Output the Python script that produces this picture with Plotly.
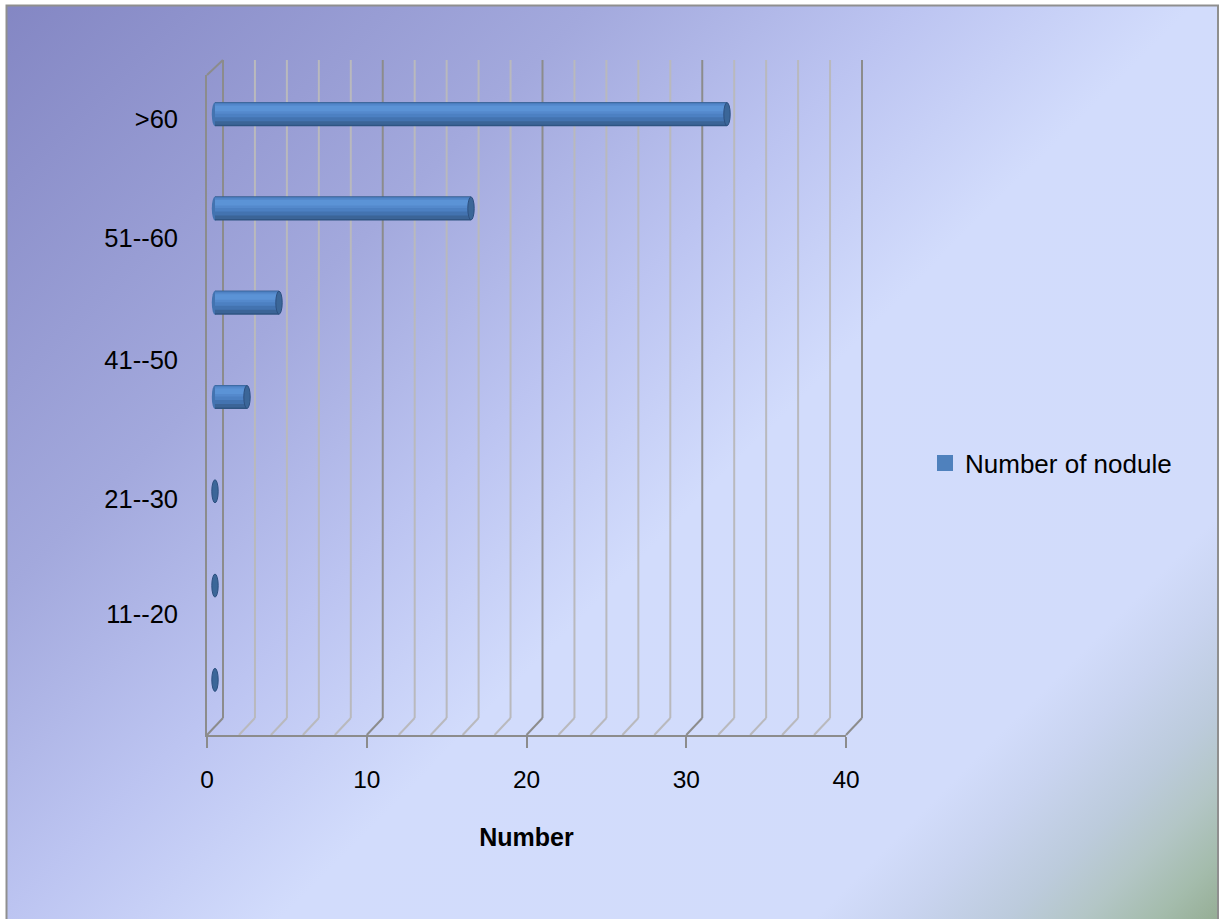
import base64
import plotly.graph_objects as go

# ---- data -------------------------------------------------------------
age_groups = ["0--10", "11--20", "21--30", "31--40", "41--50", "51--60", ">60"]
nodule_counts = [0, 0, 0, 2, 4, 16, 32]

tick_labels = [">60", "51--60", "41--50", "21--30", "11--20"]
tick_label_pos = [5.95, 4.69, 3.39, 1.92, 0.70]

x_ticks = [0, 10, 20, 30, 40]
series_name = "Number of nodule"

# ---- geometry helpers (pixel -> paper) ---------------------------------
W, H = 1220, 919


def px_x(x):
    return x / W


def px_y(y):
    return 1 - y / H


FONT = "Liberation Sans, Arial, sans-serif"
PX_PER_CAT = (727 - 67) / 7.0  # pixels per category slot on the bar axis
HALF_BAR = 12 / PX_PER_CAT
WALL_PPU = (862 - 223) / 40.0   # back wall pixels per unit
BAR_PPU = (855 - 215) / 40.0    # bar depth pixels per unit

# ---- background gradient as an inline SVG -----------------------------
svg = f"""<svg xmlns='http://www.w3.org/2000/svg' width='{W}' height='{H}' viewBox='0 0 {W} {H}'>
<defs>
<linearGradient id='g' gradientUnits='userSpaceOnUse' x1='0' y1='0' x2='1070' y2='1070'>
<stop offset='0' stop-color='#8386c3'/>
<stop offset='0.28' stop-color='#a3a9dd'/>
<stop offset='0.43' stop-color='#bcc4f1'/>
<stop offset='0.56' stop-color='#d2dcfc'/>
<stop offset='0.81' stop-color='#d2dcfb'/>
<stop offset='0.85' stop-color='#c9d4f0'/>
<stop offset='0.90' stop-color='#bccbdc'/>
<stop offset='0.935' stop-color='#b3c6c6'/>
<stop offset='0.97' stop-color='#a4bcac'/>
<stop offset='1' stop-color='#95ad94'/>
</linearGradient>
</defs>
<rect x='0' y='0' width='{W}' height='{H}' fill='#ffffff'/>
<rect x='7' y='6' width='1211' height='{H}' fill='url(#g)'/>
</svg>"""
bg_uri = "data:image/svg+xml;base64," + base64.b64encode(svg.encode()).decode()

fig = go.Figure()

# invisible anchors so every subplot is drawn
fig.add_trace(go.Scatter(x=[None], y=[None], xaxis="x", yaxis="y",
                         showlegend=False, hoverinfo="skip"))
fig.add_trace(go.Scatter(x=[None], y=[None], xaxis="x3", yaxis="y3",
                         showlegend=False, hoverinfo="skip"))

# ---- cylinder bodies: stacked shading bands ---------------------------
cat_idx = list(range(len(age_groups)))
bands = [  # (bottom px, top px, colour) relative to bar centre, up positive
    (-12, 12, "#2f5482"),
    (-10.5, 12, "#3b6497"),
    (-7, 11.5, "#4373b0"),
    (-3, 11, "#4c80c2"),
    (0.5, 10, "#5489cc"),
    (3, 8.5, "#5b93d6"),
]
for lo, hi, col in bands:
    fig.add_trace(go.Bar(
        x=nodule_counts, y=cat_idx, base=0, orientation="h",
        width=(hi - lo) / PX_PER_CAT, offset=lo / PX_PER_CAT,
        marker=dict(color=col, line=dict(width=0)),
        xaxis="x2", yaxis="y2", showlegend=False,
        customdata=age_groups, hovertemplate="%{customdata}: %{x}<extra></extra>",
    ))

# legend entry
fig.add_trace(go.Scatter(
    x=[None], y=[None], mode="markers", name=series_name,
    marker=dict(symbol="square", size=16, color="#4f81bd"),
    xaxis="x2", yaxis="y2",
))

shapes = []

# back wall gridlines (major every 10, minor every 2)
for t in range(0, 41, 2):
    major = t % 10 == 0
    col = "#8c8c8c" if major else "#b9b9bd"
    shapes.append(dict(type="line", xref="x", yref="paper", layer="below",
                       x0=t, x1=t, y0=px_y(718), y1=px_y(60),
                       line=dict(color=col, width=2)))
    # floor line running from the back wall to the front edge
    shapes.append(dict(type="line", xref="x", yref="paper",
                       xsizemode="pixel", xanchor=t, x0=0, x1=-16,
                       ysizemode="pixel", yanchor=px_y(718), y0=0, y1=-17,
                       layer="below", line=dict(color=col, width=2)))

# rounded left ends and elliptical caps of the cylinders
for i, v in zip(cat_idx, nodule_counts):
    if v > 0:
        shapes.append(dict(type="circle", xref="x2", yref="y2", layer="between",
                           x0=-0.2, x1=0.2, y0=i - HALF_BAR, y1=i + HALF_BAR,
                           fillcolor="#4373b0", line=dict(width=0)))
    shapes.append(dict(type="circle", xref="x2", yref="y2",
                       x0=v - 0.2, x1=v + 0.2, y0=i - HALF_BAR * 0.96, y1=i + HALF_BAR * 0.96,
                       fillcolor="#3b6698", line=dict(color="#2d5080", width=1)))

# top edge of the side wall
shapes.append(dict(type="line", xref="paper", yref="paper",
                   x0=px_x(207), y0=px_y(75), x1=px_x(223), y1=px_y(60),
                   line=dict(color="#8c8c8c", width=2)))

# chart-area border
shapes.append(dict(type="path", xref="paper", yref="paper",
                   path=f"M {px_x(6.5)},{px_y(930)} L {px_x(6.5)},{px_y(5.5)} "
                        f"L {px_x(1218)},{px_y(5.5)} L {px_x(1218)},{px_y(930)}",
                   line=dict(color="#8f8f8f", width=2)))

fig.update_layout(
    width=W, height=H, autosize=False,
    margin=dict(l=0, r=0, t=0, b=0, pad=0, autoexpand=False),
    paper_bgcolor="#ffffff", plot_bgcolor="rgba(0,0,0,0)",
    barmode="overlay",
    font=dict(family=FONT, size=24, color="#000000"),
    images=[dict(source=bg_uri, xref="paper", yref="paper", x=0, y=1,
                 sizex=1, sizey=1, xanchor="left", yanchor="top",
                 sizing="stretch", layer="below")],
    shapes=shapes,
    # back wall scale (padded so end lines are not clipped)
    xaxis=dict(domain=[px_x(205), px_x(864)],
               range=[-(223 - 205) / WALL_PPU, 40 + (864 - 862) / WALL_PPU],
               anchor="y", showgrid=False, showticklabels=False, ticks="",
               zeroline=False, showline=False, fixedrange=True),
    yaxis=dict(domain=[px_y(718), px_y(60)], range=[0, 1], anchor="x",
               showgrid=False, zeroline=False, showticklabels=False, ticks="",
               showline=False, fixedrange=True),
    # bar axes (padded left so the rounded ends show)
    xaxis2=dict(domain=[px_x(205), px_x(855)],
                range=[-(215 - 205) / BAR_PPU, 40], anchor="y2",
                visible=False, fixedrange=True),
    yaxis2=dict(domain=[px_y(727), px_y(67)], range=[-0.5, 6.5], anchor="free",
                position=px_x(207), showgrid=False, zeroline=False, showline=False,
                ticks="", tickvals=tick_label_pos, ticktext=tick_labels,
                ticklabelstandoff=29, tickfont=dict(size=25.5), fixedrange=True),
    # front axis with labels
    xaxis3=dict(domain=[px_x(207), px_x(846)], range=[0, 40], anchor="y3",
                tickvals=x_ticks, ticks="outside", ticklen=11, tickwidth=2,
                tickcolor="#8c8c8c", showline=True, linecolor="#8c8c8c", linewidth=2,
                showgrid=False, zeroline=False, tickfont=dict(size=24.5),
                ticklabelstandoff=11,
                title=dict(text="<b>Number</b>", font=dict(size=25), standoff=36),
                fixedrange=True),
    yaxis3=dict(domain=[px_y(735), px_y(75)], range=[0, 1], anchor="x3",
                showline=True, linecolor="#8c8c8c", linewidth=2, showgrid=False,
                zeroline=False, showticklabels=False, ticks="", fixedrange=True),
    legend=dict(x=px_x(925), y=px_y(463), xanchor="left", yanchor="middle",
                bgcolor="rgba(0,0,0,0)", font=dict(size=26, family=FONT),
                itemclick=False, itemdoubleclick=False),
    hovermode="closest",
)

fig.write_html(
    "out.html",
    config={"displayModeBar": False},
    post_script="document.body.style.margin='0';"
                "document.body.style.overflow='hidden';"
                "document.documentElement.style.overflow='hidden';",
)
